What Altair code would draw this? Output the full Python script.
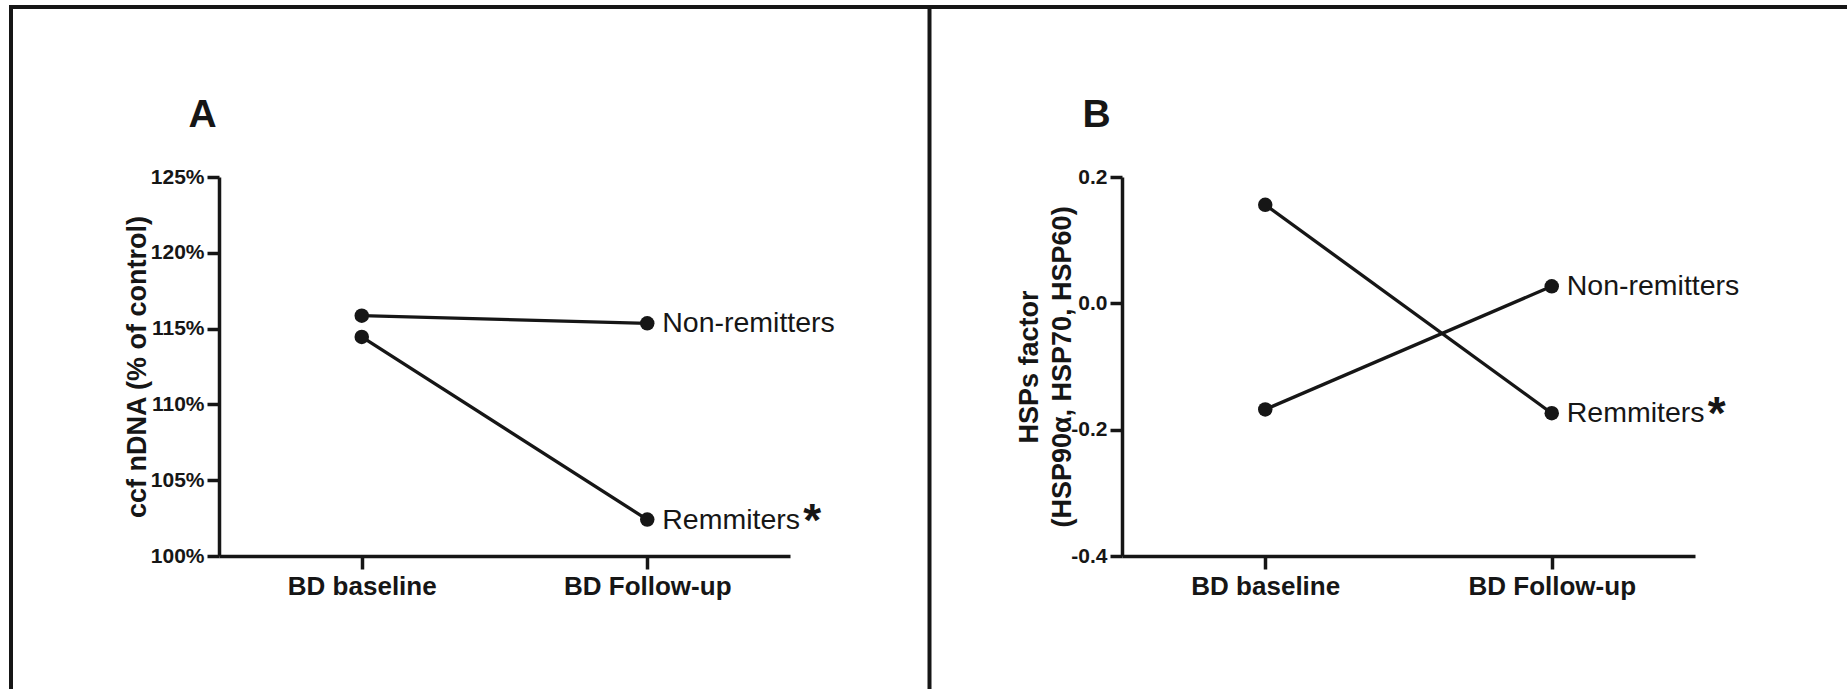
import altair as alt
import pandas as pd

FONT = "Liberation Sans"
INK = "#161616"

timepoints = ["BD baseline", "BD Follow-up"]
groups = ["Non-remitters", "Remmiters"]
panel_letters = ["A", "B"]

# Panel A: ccf nDNA, % of control
cfdna_nonremitters = [115.85, 115.35]
cfdna_remitters = [114.45, 102.4]
cfdna_ticks = [100, 105, 110, 115, 120, 125]

# Panel B: HSPs factor score
hsp_nonremitters = [-0.168, 0.027]
hsp_remitters = [0.156, -0.174]
hsp_ticks = [-0.4, -0.2, 0.0, 0.2]


def long_table(nonrem, rem):
    rows = []
    for g, vals in zip(groups, [nonrem, rem]):
        for t, v in zip(timepoints, vals):
            rows.append({"time": t, "group": g, "value": v})
    return pd.DataFrame(rows)


def panel(df, x_range, y_domain, y_ticks, label_expr, y_title, axis_x, title_x):
    x = alt.X(
        "time:N",
        sort=timepoints,
        scale=alt.Scale(type="point", domain=timepoints, range=x_range, padding=0.5),
        axis=alt.Axis(
            title=None, orient="bottom", offset=-133, labelAngle=0,
            labelFont=FONT, labelFontSize=26, labelFontWeight="bold", labelColor=INK,
            labelPadding=4, tickSize=13, tickWidth=3.5, tickColor=INK,
            domainWidth=3.5, domainColor=INK, grid=False,
        ),
    )
    y = alt.Y(
        "value:Q",
        scale=alt.Scale(domain=y_domain, range=[556, 177], nice=False, zero=False),
        axis=alt.Axis(
            title=y_title, orient="left", offset=-axis_x, values=y_ticks,
            labelExpr=label_expr, labelFont=FONT, labelFontSize=21,
            labelFontWeight="bold", labelColor=INK, labelPadding=3,
            tickSize=12, tickWidth=3.5, tickColor=INK,
            domainWidth=3.5, domainColor=INK, grid=False,
            titleFont=FONT, titleFontSize=27, titleFontWeight="bold", titleColor=INK,
            titleX=title_x, titleBaseline="middle", titleLineHeight=33,
        ),
    )
    base = alt.Chart(df).encode(x=x, y=y)
    lines = base.mark_line(color=INK, strokeWidth=3.3).encode(detail="group:N")
    dots = base.mark_circle(size=210, color=INK, opacity=1)
    last = base.transform_filter(alt.datum.time == timepoints[1])
    names = last.mark_text(
        align="left", baseline="middle", dx=15, fontSize=28.5, font=FONT, color=INK
    ).encode(text="group:N")
    star = last.transform_filter(alt.datum.group == groups[1]).mark_text(
        text="*", align="left", baseline="alphabetic", dx=156, dy=16,
        fontSize=46, fontWeight="bold", font=FONT, color=INK,
    )
    return alt.layer(lines, dots, names, star)


panel_a = panel(
    long_table(cfdna_nonremitters, cfdna_remitters),
    x_range=[219, 790], y_domain=[100, 125], y_ticks=cfdna_ticks,
    label_expr="datum.value + '%'",
    y_title="ccf nDNA (% of control)", axis_x=219, title_x=-82,
)

panel_b = panel(
    long_table(hsp_nonremitters, hsp_remitters),
    x_range=[1122, 1695], y_domain=[-0.4, 0.2], y_ticks=hsp_ticks,
    label_expr="datum.value < 0 ? '-' + format(-datum.value, '.1f') : format(datum.value, '.1f')",
    y_title=["HSPs factor", "(HSP90\u03b1, HSP70, HSP60)"], axis_x=1122, title_x=-93,
)

# Figure frame: top border, left border and the divider between the panels
one = pd.DataFrame({"k": [0]})
top_rule = alt.Chart(one).mark_rule(color=INK, strokeWidth=4).encode(
    x=alt.value(9), x2=alt.value(1847), y=alt.value(7)
)
left_rule = alt.Chart(one).mark_rule(color=INK, strokeWidth=4).encode(
    x=alt.value(11), y=alt.value(5), y2=alt.value(689)
)
mid_rule = alt.Chart(one).mark_rule(color=INK, strokeWidth=4).encode(
    x=alt.value(929.5), y=alt.value(5), y2=alt.value(689)
)


def letter(ch, cx):
    return alt.Chart(pd.DataFrame({"letter": [ch]})).mark_text(
        align="center", baseline="alphabetic", fontSize=39, fontWeight="bold",
        font=FONT, color=INK,
    ).encode(text="letter:N", x=alt.value(cx), y=alt.value(127))


chart = (
    alt.layer(
        panel_a, panel_b, top_rule, left_rule, mid_rule,
        letter(panel_letters[0], 202.5), letter(panel_letters[1], 1096.5),
    )
    .resolve_scale(x="independent", y="independent")
    .properties(width=1847, height=689, padding=0,
                autosize=alt.AutoSizeParams(type="none"), background="white")
    .configure_view(strokeWidth=0)
)

chart.save("out.html", embed_options={"renderer": "svg", "actions": False})
